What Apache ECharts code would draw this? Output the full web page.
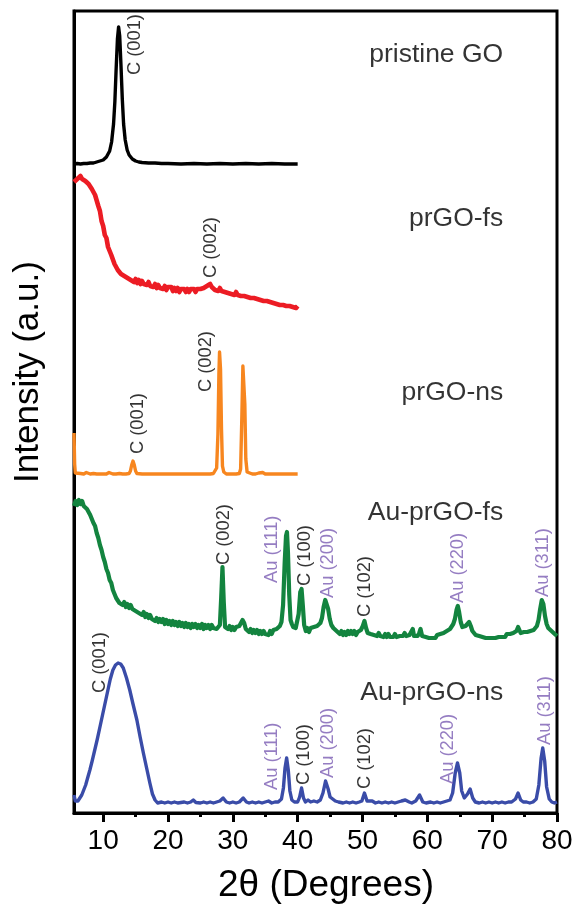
<!DOCTYPE html>
<html><head><meta charset="utf-8">
<script src="https://cdn.jsdelivr.net/npm/echarts@6/dist/echarts.min.js"></script>
<style>html,body{margin:0;padding:0;background:#fff}#c{width:576px;height:907px}</style>
</head><body><div id="c"></div>
<script>
const FONT = '"Liberation Sans", Arial, Helvetica, sans-serif';

// x-axis ticks
const xTicks = [10, 20, 30, 40, 50, 60, 70, 80];
const xMinorTicks = [15, 25, 35, 45, 55, 65, 75];

// samples
const sampleNames = ['pristine GO', 'prGO-fs', 'prGO-ns', 'Au-prGO-fs', 'Au-prGO-ns'];
const sampleColors = ['#000000', '#ec1c24', '#f7861f', '#13843f', '#3a4ca8'];
const sampleOffsets = [649, 503, 339, 173, 10];

// [2theta, intensity]
const pristineGO = [[5.5,0],[6,0.5],[6.5,0],[7,0.5],[7.5,0.5],[8,1],[8.5,1],[9,2],[9.5,3],[10,4],[10.5,7],[11,13],[11.3,22],[11.6,40],[11.8,62],[12.0,95],[12.2,125],[12.38,137],[12.55,128],[12.75,98],[12.95,65],[13.15,40],[13.4,24],[13.7,14],[14,9],[14.5,5],[15,3],[15.5,2],[16,1.5],[17,1],[18,1],[19,0.5],[20,0.5],[22,0],[24,0.5],[26,0],[28,0.5],[30,0],[32,0.5],[34,0],[36,0.5],[38,0],[40,0]];

const prGOfs = [[5.5,128],[5.75,126],[6,131],[6.25,129],[6.5,134],[6.75,131],[7,133],[7.25,129],[7.5,131],[7.75,126],[8,127],[8.25,121],[8.5,120],[8.75,115],[9,113],[9.25,104],[9.5,99],[9.75,89],[10,84],[10.25,75],[10.5,72],[10.75,63],[11,61],[11.25,55],[11.5,53],[11.75,46],[12,45],[12.25,40],[12.5,41],[12.75,36],[13,38],[13.25,34],[13.5,36],[13.75,32],[14,34],[14.25,30],[14.5,32],[14.75,28],[15,31],[15.25,27],[15.5,30],[15.75,26],[16,29],[16.25,26],[16.5,28],[16.75,25],[17,28],[17.25,24],[17.5,26],[17.75,23],[18,26],[18.25,22],[18.5,25],[18.75,22],[19,24],[19.25,21],[19.5,24],[19.75,20],[20,23],[20.25,21],[20.5,23],[20.75,19],[21,22],[21.25,19],[21.5,22],[21.75,18],[22,21],[22.25,19],[22.5,21],[22.75,18],[23,21],[23.25,18],[23.5,21],[23.75,19],[24,21],[24.25,18],[24.5,21],[24.75,19],[25,21],[25.25,20],[25.5,22],[25.75,21],[26,24],[26.25,23],[26.5,26],[26.75,23],[27,23],[27.25,20],[27.5,22],[27.75,19],[28,22],[28.25,19],[28.5,21],[28.75,18],[29,20],[29.25,17],[29.5,19],[29.75,16],[30,18],[30.25,15],[30.5,18],[30.75,15],[31,17],[31.25,14],[31.5,16],[31.75,14],[32,15],[32.25,13],[32.5,15],[32.75,12],[33,14],[33.25,12],[33.5,13],[33.75,11],[34,12],[34.25,10],[34.5,12],[34.75,9],[35,11],[35.25,9],[35.5,10],[35.75,8],[36,9],[36.25,7],[36.5,9],[36.75,6],[37,8],[37.25,5],[37.5,7],[37.75,5],[38,6],[38.25,4],[38.5,6],[38.75,4],[39,5],[39.25,3],[39.5,5],[39.75,2],[40,4]];

const prGOns = [[5.5,41],[5.6,10],[5.7,1],[6,0],[6.5,0.5],[7,0],[7.4,1.5],[7.6,0],[8,0],[8.5,0.5],[9,0],[9.2,1.5],[9.4,0],[10,0],[10.5,0],[10.9,1.5],[11.1,0],[11.5,0],[12,0],[12.5,0.5],[13,0],[13.5,0],[14,0.5],[14.2,3],[14.4,9],[14.6,13],[14.8,9],[15,3],[15.2,0.5],[15.5,0],[16,0],[17,0],[18,0],[19,0],[20,0],[21,0],[21.3,1.5],[21.5,0],[21.8,1.5],[22,0],[23,0],[24,0],[25,0],[26,0],[26.5,0],[27,0.5],[27.3,2],[27.5,6],[27.7,40],[27.85,100],[27.95,122],[28.1,105],[28.25,45],[28.4,8],[28.6,2],[28.8,0.5],[29,0],[29.5,0],[30,0],[30.5,0],[31,0.5],[31.2,5],[31.4,60],[31.55,108],[31.7,110],[31.85,70],[32,15],[32.2,2],[32.5,0.5],[33,0],[33.3,1.5],[33.5,0],[34,1],[34.6,1.5],[35,0],[36,0],[37,0],[38,0],[39,0],[40,0]];

const AuPrGOfs = [[5.5,134],[5.75,139],[6,135],[6.25,140],[6.5,136],[6.75,139],[7,134],[7.25,136],[7.5,131],[7.75,131],[8,125],[8.25,123],[8.5,117],[8.75,114],[9,107],[9.25,102],[9.5,95],[9.75,90],[10,83],[10.25,78],[10.5,71],[10.75,67],[11,60],[11.25,57],[11.5,50],[11.75,48],[12,42],[12.25,42],[12.5,37],[12.75,39],[13,35],[13.25,38],[13.5,33],[13.75,36],[14,32],[14.25,35],[14.5,31],[14.75,33],[15,29],[15.25,31],[15.5,27],[15.75,29],[16,25],[16.25,28],[16.5,23],[16.75,26],[17,22],[17.25,25],[17.5,21],[17.75,23],[18,19],[18.25,22],[18.5,18],[18.75,21],[19,18],[19.25,21],[19.5,16],[19.75,20],[20,16],[20.25,19],[20.5,15],[20.75,19],[21,15],[21.25,18],[21.5,14],[21.75,18],[22,14],[22.25,17],[22.5,13],[22.75,17],[23,13],[23.25,16],[23.5,12],[23.75,16],[24,13],[24.25,16],[24.5,12],[24.75,15],[25,12],[25.25,16],[25.5,11],[25.75,15],[26,12],[26.25,15],[26.5,11],[26.75,15],[27,12],[27.25,14],[27.5,11],[27.75,13],[28,15],[28.2,42],[28.4,73],[28.6,38],[28.8,13],[29,15],[29.25,11],[29.5,14],[29.75,10],[30,13],[30.25,10],[30.5,13],[30.75,11],[31,14],[31.25,15],[31.5,20],[31.75,17],[32,11],[32.25,11],[32.5,8],[32.75,11],[33,7],[33.25,10],[33.5,7],[33.75,10],[34,6],[34.25,9],[34.5,6],[34.75,9],[35,6],[35.25,8],[35.5,5],[35.75,9],[36,6],[36.25,10],[36.5,8],[36.75,11],[37,10],[37.25,14],[37.5,18],[37.75,35],[38,78],[38.2,104],[38.35,108],[38.5,88],[38.7,45],[38.9,20],[39.1,16],[39.3,13],[39.5,15],[39.7,12],[39.9,14],[40.15,26],[40.4,48],[40.6,51],[40.8,34],[41,15],[41.25,9],[41.5,12],[41.75,8],[42,12],[42.25,10],[42.5,13],[42.75,11],[43,14],[43.25,12],[43.5,17],[43.75,22],[44,33],[44.25,40],[44.45,41],[44.7,31],[44.95,21],[45.2,15],[45.5,12],[45.75,13],[46,9],[46.25,10],[46.5,6],[46.75,9],[47,5],[47.25,8],[47.5,5],[47.75,9],[48,6],[48.25,9],[48.5,6],[48.75,9],[49,5],[49.25,8],[49.5,6],[49.75,10],[50.05,14],[50.3,19],[50.55,12],[50.8,7],[51,9],[51.25,6],[51.5,8],[51.75,5],[52,7],[52.25,4],[52.5,7],[52.75,4],[53,6],[53.25,3],[53.5,6],[53.75,3],[54,6],[54.25,3],[54.5,5],[54.75,3],[55,6],[55.25,3],[55.5,5],[55.75,4],[56,6],[56.25,4],[56.5,7],[56.75,4],[57,6],[57.25,5],[57.5,4],[57.75,11],[57.95,4],[58.25,6],[58.5,4],[58.75,7],[58.95,11],[59.2,4],[59.5,5],[59.75,3],[60,5],[60.25,2],[60.5,4],[60.75,2],[61,4],[61.25,2],[61.5,5],[61.75,3],[62,6],[62.25,4],[62.5,7],[62.75,6],[63,9],[63.25,8],[63.5,11],[63.75,12],[64,16],[64.25,21],[64.5,30],[64.7,34],[64.9,28],[65.15,18],[65.4,13],[65.65,12],[65.9,14],[66.2,16],[66.45,18],[66.7,14],[66.95,9],[67.2,8],[67.45,5],[67.7,7],[68,4],[68.25,6],[68.5,3],[68.75,5],[69,2],[69.25,4],[69.5,2],[69.75,4],[70,2],[70.25,4],[70.5,2],[70.75,4],[71,3],[71.25,5],[71.5,3],[71.75,5],[72,3],[72.25,6],[72.5,4],[72.75,6],[73,4],[73.25,7],[73.5,6],[73.75,9],[74,13],[74.2,12],[74.4,7],[74.65,6],[74.9,8],[75.15,6],[75.4,8],[75.65,7],[75.9,9],[76.15,8],[76.4,10],[76.65,11],[76.9,14],[77.15,20],[77.4,31],[77.65,40],[77.9,36],[78.15,24],[78.4,16],[78.65,12],[78.9,13],[79.15,9],[79.4,10],[79.65,6],[80,4]];

const AuPrGOns = [[5.5,8],[5.7,2],[5.9,0],[6.1,2],[6.4,5],[6.7,8],[7,13],[7.3,18],[7.6,25],[7.95,33],[8.3,42],[8.7,53],[9.1,64],[9.5,76],[9.9,88],[10.2,97],[10.5,106],[10.8,115],[11.1,124],[11.5,133],[11.9,138],[12.3,140],[12.7,139],[13.1,135],[13.6,125],[14.1,113],[14.6,99],[15.2,83],[15.7,66],[16.2,50],[16.7,35],[17.2,20],[17.6,9],[18,3],[18.4,0],[19,1],[19.5,0],[20,1],[20.5,0],[21,1],[21.5,0],[22,0.5],[22.5,1],[23,0],[23.5,1],[23.9,3],[24.3,0.5],[25,0],[25.5,1],[26,0],[26.5,1],[27,0],[27.5,1],[28,2],[28.5,5],[29,1],[29.5,0],[30,1],[30.5,0],[31,1],[31.6,5],[32.1,1],[32.5,0],[33,1],[33.5,0],[34,1],[34.5,0],[35,1],[35.5,2],[36,0],[36.5,1],[37,1],[37.5,4],[37.8,15],[38.05,35],[38.3,45],[38.55,33],[38.8,12],[39.1,3],[39.5,1],[40,1],[40.3,6],[40.6,15],[40.9,5],[41.2,1],[41.6,3],[42,1],[42.5,2],[43,1],[43.5,3],[43.9,10],[44.3,22],[44.7,14],[45,6],[45.4,4],[45.8,2],[46.3,1],[47,0],[47.5,1],[48,0],[48.5,1],[49,0],[49.5,1],[49.9,2],[50.3,10],[50.7,2],[51,1],[51.5,2],[52,0],[52.5,1],[53,0],[53.5,1],[54,0],[54.5,1],[55,0],[55.5,1],[56,2],[56.6,3],[57.2,1],[57.6,0],[58.2,2],[58.8,8],[59.3,1],[59.8,0],[60.5,1],[61,0],[61.5,1],[62,0],[62.5,1],[63,2],[63.5,3],[63.9,10],[64.3,30],[64.65,40],[65,30],[65.3,12],[65.7,5],[66.2,9],[66.6,14],[67,5],[67.4,1],[68,0],[68.5,1],[69,0],[69.5,1],[70,0],[70.5,1],[71,0],[71.5,1],[72,0],[72.5,1],[73,1],[73.6,4],[74,10],[74.4,3],[74.8,1],[75.3,1],[75.8,0],[76.3,1],[76.8,4],[77.2,18],[77.55,45],[77.8,55],[78.1,42],[78.4,16],[78.8,4],[79.2,1],[79.6,0],[80,1]];

const sampleData = [pristineGO, prGOfs, prGOns, AuPrGOfs, AuPrGOns];
const sampleLineWidths = [3.4, 4.6, 3.4, 4.2, 3.4];

// sample name labels: [2theta (right edge), axis value (middle)]
const nameLabelPos = [[71.7, 758], [71.7, 594], [71.7, 420], [71.7, 300], [71.7, 120]];

// peak labels: [2theta, axis value at text start, text, isAu]
const peakLabels = [
  [14.9, 738, 'C (001)', 0],
  [26.7, 535, 'C (002)', 0],
  [15.4, 359, 'C (001)', 0],
  [25.9, 421, 'C (002)', 0],
  [28.7, 248, 'C (002)', 0],
  [36.0, 230, 'Au (111)', 1],
  [41.1, 227, 'C (100)', 0],
  [44.7, 215, 'Au (200)', 1],
  [50.4, 196, 'C (102)', 0],
  [64.8, 210, 'Au (220)', 1],
  [77.8, 216, 'Au (311)', 1],
  [9.5, 120, 'C (001)', 0],
  [36.0, 23, 'Au (111)', 1],
  [41.0, 28, 'C (100)', 0],
  [44.7, 35, 'Au (200)', 1],
  [50.4, 24, 'C (102)', 0],
  [63.2, 29, 'Au (220)', 1],
  [78.2, 68, 'Au (311)', 1]
];
const AU_COLOR = '#7b5cb3';

const series = sampleData.map((d, i) => ({
  type: 'line',
  name: sampleNames[i],
  data: d.map(p => [p[0], p[1] + sampleOffsets[i]]),
  showSymbol: false,
  symbol: 'none',
  smooth: false,
  lineStyle: { color: sampleColors[i], width: sampleLineWidths[i], join: 'round' },
  itemStyle: { color: sampleColors[i] },
  silent: true,
  z: 3
}));

series.push({
  type: 'scatter',
  symbolSize: 1,
  itemStyle: { color: 'rgba(0,0,0,0)' },
  silent: true,
  z: 5,
  data: peakLabels.map(p => ({
    value: [p[0], p[1]],
    name: p[2],
    label: { color: p[3] ? AU_COLOR : '#000' }
  })),
  label: {
    show: true, position: 'inside', rotate: 90, align: 'left', verticalAlign: 'middle',
    formatter: q => q.name, fontSize: 18.3, fontFamily: FONT
  }
});

series.push({
  type: 'scatter',
  symbolSize: 1,
  itemStyle: { color: 'rgba(0,0,0,0)' },
  silent: true,
  z: 5,
  data: nameLabelPos.map((p, i) => ({ value: p, name: sampleNames[i] })),
  label: {
    show: true, position: 'inside', align: 'right', verticalAlign: 'middle',
    formatter: q => q.name, fontSize: 26.5, fontFamily: FONT, color: '#000'
  }
});

const chart = echarts.init(document.getElementById('c'), null, { renderer: 'canvas' });
chart.setOption({
  animation: false,
  backgroundColor: '#fff',
  grid: { left: 74, right: 19, top: 11, bottom: 94, show: true, borderColor: '#000', borderWidth: 3, containLabel: false },
  xAxis: [{
    type: 'value', min: 5.5, max: 80, position: 'bottom',
    axisLine: { show: true, onZero: false, lineStyle: { color: '#000', width: 3 } },
    axisTick: { show: true, length: 9, lineStyle: { color: '#000', width: 3 }, customValues: xTicks },
    axisLabel: { show: true, customValues: xTicks, fontSize: 28, color: '#000', fontFamily: FONT, margin: 14 },
    splitLine: { show: false }
  }, {
    type: 'value', min: 5.5, max: 80, position: 'bottom',
    axisLine: { show: false },
    axisTick: { show: true, length: 4, lineStyle: { color: '#000', width: 3 }, customValues: xMinorTicks },
    axisLabel: { show: false },
    splitLine: { show: false }
  }],
  yAxis: {
    type: 'value', min: 0, max: 802,
    axisLine: { show: true, onZero: false, lineStyle: { color: '#000', width: 3 } },
    axisTick: { show: false }, axisLabel: { show: false }, splitLine: { show: false }
  },
  graphic: [
    { type: 'text', x: 28, y: 372, rotation: Math.PI / 2,
      style: { text: 'Intensity (a.u.)', font: '35px ' + FONT, fill: '#000', align: 'center', verticalAlign: 'middle', textAlign: 'center', textVerticalAlign: 'middle' } },
    { type: 'text', x: 326, y: 886,
      style: { text: '2θ (Degrees)', font: '37px ' + FONT, fill: '#000', align: 'center', verticalAlign: 'middle', textAlign: 'center', textVerticalAlign: 'middle' } }
  ],
  series: series
});
</script></body></html>
